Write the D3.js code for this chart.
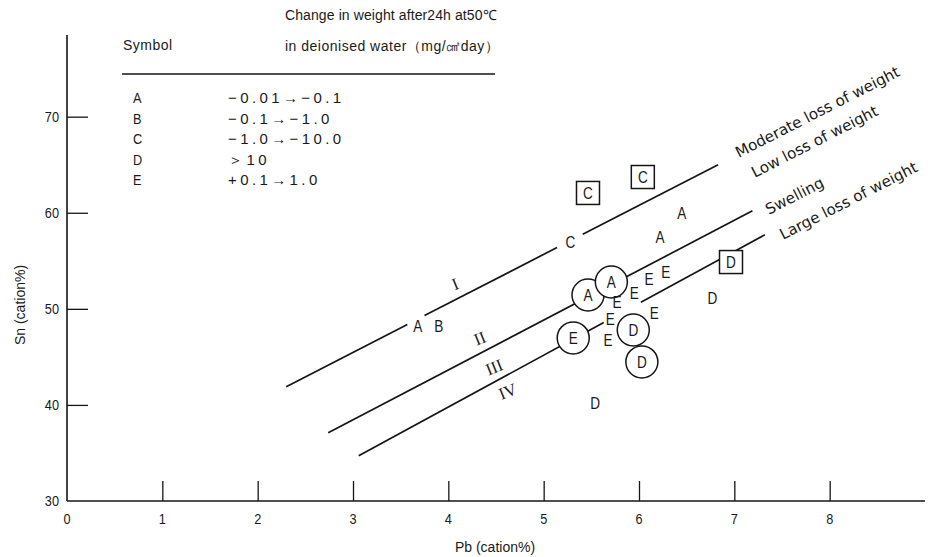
<!DOCTYPE html>
<html><head><meta charset="utf-8">
<script src="https://cdn.jsdelivr.net/npm/d3@7"></script>
<style>
body{margin:0;background:#fff;}
text{font-family:"Liberation Sans",Arial,sans-serif;fill:#1a1a1a;}
text.roman{font-family:"Liberation Serif",serif;}
text.region{font-family:"DejaVu Sans",sans-serif;}
</style></head><body>
<svg id="c" width="934" height="557"></svg>
<script>
// ---- data ----
const xTicks = [1,2,3,4,5,6,7,8];
const xTickLabels = ["0","1","2","3","4","5","6","7","8"];
const yTicks = [40,50,60,70];
const yTickLabels = ["30","40","50","60","70"];
const legendSymbols = ["A","B","C","D","E"];
const legendRanges = ["−0.01→−0.1","−0.1→−1.0","−1.0→−10.0","＞10","+0.1→1.0"];
// boundary lines: start/end (Pb, Sn), gaps in Pb
const lineStartPb = [2.30, 2.74, 3.06];
const lineStartSn = [41.9, 37.1, 34.7];
const lineEndPb = [6.83, 7.19, 7.32];
const lineEndSn = [65.0, 60.2, 57.7];
const lineGaps = [[[3.57,3.75],[5.14,5.41]], [], [[5.63,6.02]]];
// plain letters
const plainSym = ["A","B","C","A","A","E","E","E","E","E","E","E","D","D"];
const plainPb  = [3.68,3.90,5.28,6.45,6.22,5.77,5.95,6.105,6.28,5.70,5.675,6.16,6.77,5.54];
const plainSn  = [48.2,48.2,56.96,59.97,57.48,50.71,51.65,53.11,53.83,48.94,46.76,49.57,51.13,40.2];
// circled letters
const circSym = ["A","A","E","D","D"];
const circPb  = [5.465,5.71,5.31,5.94,6.03];
const circSn  = [51.44,52.79,46.97,47.80,44.47];
// boxed letters
const boxSym = ["C","C","D"];
const boxPb  = [5.465,6.04,6.965];
const boxSn  = [62.06,63.72,54.87];
// region labels
const romanLabels = ["I","II","III","IV"];
const romanPb = [4.07,4.33,4.48,4.62];
const romanSn = [52.6,46.97,43.95,41.45];
const regionLabels = ["Moderate loss of weight","Low loss of weight","Swelling","Large loss of weight"];
const regionPb = [7.047,7.215,7.36,7.51];
const regionSn = [65.7,63.62,59.77,57.17];

// ---- drawing ----
const svg = d3.select("#c");
const x = d3.scaleLinear().domain([0,9]).range([67,925]);
const y = d3.scaleLinear().domain([30,78.5]).range([501,35]);
const ink = "#151515";

// axes lines
svg.append("line").attr("x1",x(0)).attr("x2",x(9)).attr("y1",y(30)).attr("y2",y(30)).attr("stroke",ink).attr("stroke-width",1.6);
svg.append("line").attr("x1",x(0)).attr("x2",x(0)).attr("y1",y(30)).attr("y2",y(78.5)).attr("stroke",ink).attr("stroke-width",1.6);

// x ticks (inward, upward)
const xAxis = d3.axisTop(x).tickValues(xTicks).tickSize(20).tickFormat("");
const gx = svg.append("g").attr("transform",`translate(0,${y(30)})`).call(xAxis);
gx.select(".domain").remove();
gx.selectAll(".tick line").attr("stroke",ink).attr("stroke-width",1.3);
svg.append("g").selectAll("text").data(xTickLabels).join("text")
  .attr("transform",(d,i)=>`translate(${x(i)},${y(30)+23}) scale(0.85,1)`).attr("text-anchor","middle")
  .attr("font-size",15).text(d=>d);

// y ticks (inward, right)
const yAxis = d3.axisRight(y).tickValues(yTicks).tickSize(21).tickFormat("");
const gy = svg.append("g").attr("transform",`translate(${x(0)},0)`).call(yAxis);
gy.select(".domain").remove();
gy.selectAll(".tick line").attr("stroke",ink).attr("stroke-width",1.3);
svg.append("g").selectAll("text").data(yTickLabels).join("text")
  .attr("transform",(d,i)=>`translate(${x(0)-8},${y(30+10*i)+5}) scale(0.85,1)`).attr("text-anchor","end")
  .attr("font-size",15).text(d=>d);

// axis titles
svg.append("text").attr("x",495).attr("y",552).attr("text-anchor","middle").attr("font-size",14).text("Pb (cation%)");
svg.append("text").attr("transform","translate(25,305) rotate(-90)").attr("text-anchor","middle").attr("font-size",14).text("Sn (cation%)");

// legend table
svg.append("text").attr("x",285).attr("y",20).attr("font-size",14).attr("letter-spacing",0.1).text("Change in weight after24h at50℃");
svg.append("text").attr("x",123).attr("y",50).attr("font-size",14).attr("letter-spacing",0.5).text("Symbol");
svg.append("text").attr("x",285).attr("y",51).attr("font-size",14).attr("letter-spacing",0.5).text("in deionised water（mg/㎠day）");
svg.append("line").attr("x1",122).attr("x2",495).attr("y1",74).attr("y2",74).attr("stroke",ink).attr("stroke-width",1.3);
svg.append("g").selectAll("text").data(legendSymbols).join("text")
  .attr("transform",(d,i)=>`translate(133,${103+i*20.5}) scale(0.85,1)`).attr("font-size",15).text(d=>d);
svg.append("g").selectAll("text").data(legendRanges).join("text")
  .attr("x",228).attr("y",(d,i)=>103+i*20.5).attr("font-size",15).attr("letter-spacing",3.4).text(d=>d);

// boundary lines with gaps
lineStartPb.forEach((p0,i)=>{
  const s0 = lineStartSn[i], p1 = lineEndPb[i], s1 = lineEndSn[i];
  const sn = p => s0 + (s1-s0)*(p-p0)/(p1-p0);
  let pts = [p0];
  lineGaps[i].forEach(g=>{pts.push(g[0]); pts.push(g[1]);});
  pts.push(p1);
  for(let k=0;k<pts.length;k+=2){
    svg.append("line").attr("x1",x(pts[k])).attr("y1",y(sn(pts[k])))
      .attr("x2",x(pts[k+1])).attr("y2",y(sn(pts[k+1])))
      .attr("stroke",ink).attr("stroke-width",1.7);
  }
});

// circled points
const gc = svg.append("g").selectAll("g").data(circSym).join("g")
  .attr("transform",(d,i)=>`translate(${x(circPb[i])},${y(circSn[i])})`);
gc.append("circle").attr("r",16).attr("fill","#fff").attr("stroke",ink).attr("stroke-width",1.5);
gc.append("text").attr("transform","scale(0.8,1)").attr("text-anchor","middle").attr("dy","0.36em").attr("font-size",17).text(d=>d);

// boxed points
const gb = svg.append("g").selectAll("g").data(boxSym).join("g")
  .attr("transform",(d,i)=>`translate(${x(boxPb[i])},${y(boxSn[i])})`);
gb.append("rect").attr("x",-11.5).attr("y",-11.5).attr("width",23).attr("height",23).attr("fill","#fff").attr("stroke",ink).attr("stroke-width",1.5);
gb.append("text").attr("transform","scale(0.8,1)").attr("text-anchor","middle").attr("dy","0.36em").attr("font-size",17).text(d=>d);

// plain letters
svg.append("g").selectAll("text").data(plainSym).join("text")
  .attr("transform",(d,i)=>`translate(${x(plainPb[i])},${y(plainSn[i])}) scale(0.8,1)`).attr("dy","0.36em")
  .attr("text-anchor","middle").attr("font-size",17).text(d=>d);

// roman numerals
svg.append("g").selectAll("text").data(romanLabels).join("text")
  .attr("class","roman")
  .attr("transform",(d,i)=>`translate(${x(romanPb[i])},${y(romanSn[i])}) rotate(-22)`)
  .attr("dy","0.36em").attr("text-anchor","middle").attr("font-size",17).text(d=>d);

// region labels
svg.append("g").selectAll("text").data(regionLabels).join("text")
  .attr("class","region")
  .attr("transform",(d,i)=>`translate(${x(regionPb[i])},${y(regionSn[i])}) rotate(-27)`)
  .attr("font-size",15.2).text(d=>d);
</script></body></html>
